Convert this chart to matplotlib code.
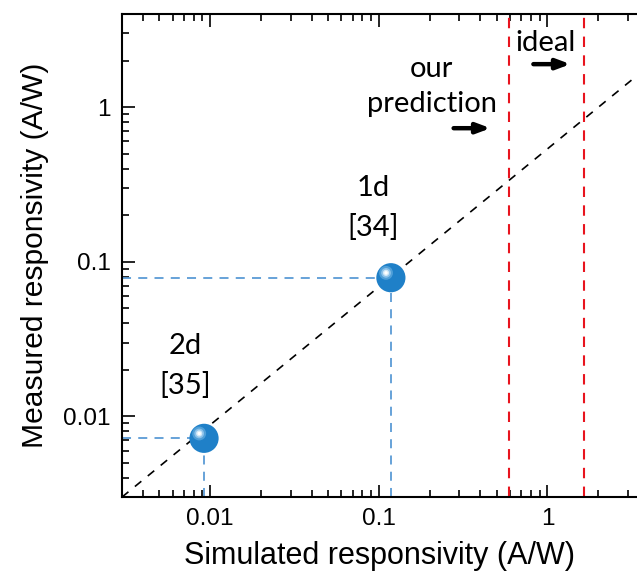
import numpy as np
import matplotlib.pyplot as plt
import matplotlib.transforms as mtransforms
from matplotlib.ticker import LogLocator, FixedLocator, FixedFormatter, NullFormatter

# measured vs simulated responsivity (A/W)
sim = [0.0092, 0.118]
meas = [0.0072, 0.0788]
pred = 0.59
ideal = 1.66
diag_x = [0.003, 3.4]
diag_y = [0.003, 1.6]
xlim = (0.003, 3.4)
ylim = (0.003, 4.0)

plt.rcParams['font.family'] = ['Liberation Sans', 'DejaVu Sans']
ann_font = ['Lato', 'DejaVu Sans']

fig = plt.figure(figsize=(6.37, 5.76), dpi=100)
ax = fig.add_axes([0.1915, 0.137, 0.8085, 0.8385])
ax.set_xscale('log')
ax.set_yscale('log')
ax.set_xlim(*xlim)
ax.set_ylim(*ylim)

ax.plot(diag_x, diag_y, color='black', ls=(0, (5, 5)), lw=1.2, zorder=2)
for v in (pred, ideal):
    ax.axvline(v, color='#e8141e', ls=(0, (5, 4)), lw=1.5, zorder=2)

blue = '#5b9bd5'
for x, y in zip(sim, meas):
    ax.plot([xlim[0], x], [y, y], color=blue, ls=(0, (5, 4)), lw=1.3, zorder=2)
    ax.plot([x, x], [ylim[0], y], color=blue, ls=(0, (5, 4)), lw=1.3, zorder=2)

# spheres
ax.scatter(sim, meas, s=21**2, color='#1f80c8', zorder=4, edgecolors='none')
for r, c in [(10, '#4f9fd8'), (7, '#8cc2ea'), (4.5, '#d4eaf8'), (2.5, 'white')]:
    tr = mtransforms.offset_copy(ax.transData, fig=fig, x=-3.5, y=3.5, units='points')
    ax.scatter(sim, meas, s=r**2, color=c, zorder=5, edgecolors='none', transform=tr)

labels = [('2d', 0.0071, 0.0284), ('[35]', 0.0071, 0.0157),
          ('1d', 0.0922, 0.299), ('[34]', 0.0922, 0.167),
          ('our', 0.206, 1.76), ('prediction', 0.206, 1.045),
          ('ideal', 0.973, 2.60)]
for t, x, y in labels:
    ax.text(x, y, t, fontsize=21, ha='center', va='center', family=ann_font)

arrows = [(0.278, 0.46, 0.731), (0.826, 1.37, 1.898)]
for x0, x1, y in arrows:
    ax.annotate('', xy=(x1, y), xytext=(x0, y),
                arrowprops=dict(arrowstyle='-|>,head_length=0.8,head_width=0.3',
                                color='black', lw=3.2, shrinkA=0, shrinkB=0))

ax.spines['right'].set_visible(False)
for s in ('left', 'bottom', 'top'):
    ax.spines[s].set_linewidth(1.5)
ax.xaxis.set_major_locator(FixedLocator([0.01, 0.1, 1]))
ax.xaxis.set_major_formatter(FixedFormatter(['0.01', '0.1', '1']))
ax.yaxis.set_major_locator(FixedLocator([0.01, 0.1, 1]))
ax.yaxis.set_major_formatter(FixedFormatter(['0.01', '0.1', '1']))
ax.xaxis.set_minor_locator(LogLocator(base=10, subs=np.arange(2, 10)))
ax.yaxis.set_minor_locator(LogLocator(base=10, subs=np.arange(2, 10)))
ax.xaxis.set_minor_formatter(NullFormatter())
ax.yaxis.set_minor_formatter(NullFormatter())
ax.tick_params(which='both', direction='in', top=True, right=False, width=1.2,
               labelsize=17.5, pad=8)
ax.tick_params(which='major', length=9)
ax.tick_params(which='minor', length=5)

ax.set_xlabel('Simulated responsivity (A/W)', fontsize=22, labelpad=8)
ax.set_ylabel('Measured responsivity (A/W)', fontsize=21.6, labelpad=10)

fig.savefig('out.png', dpi=100)
